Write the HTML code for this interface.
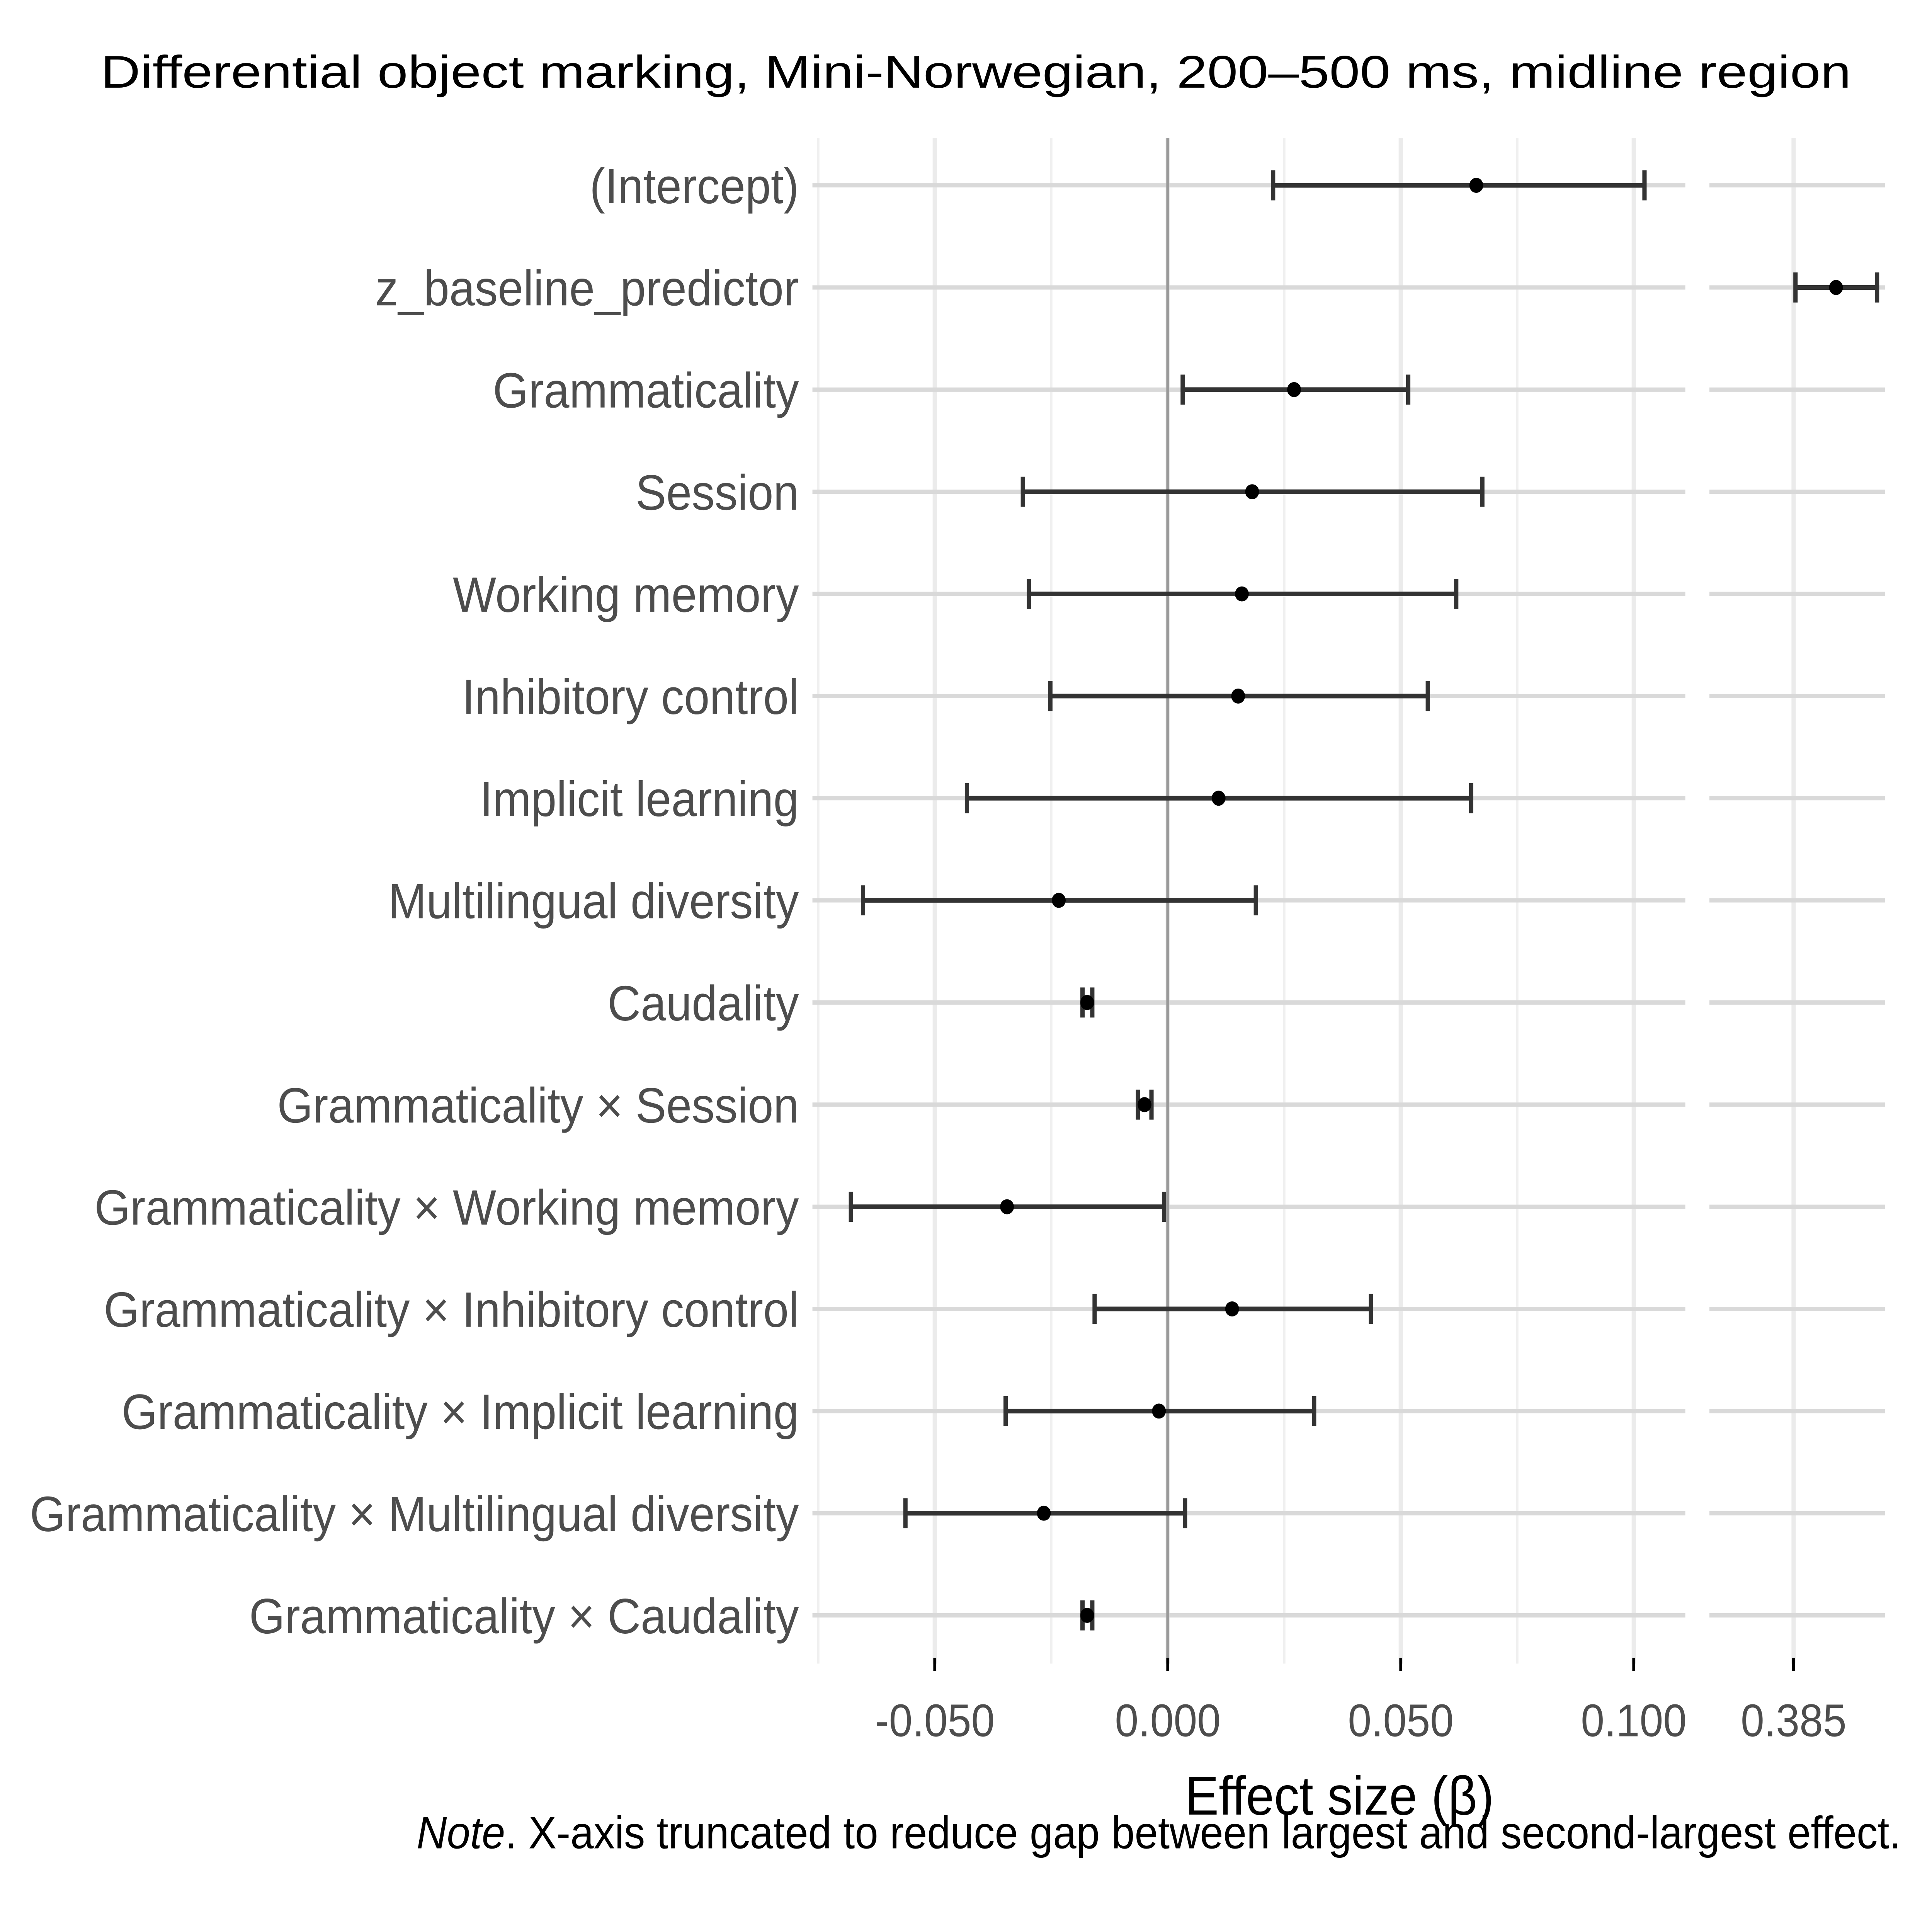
<!DOCTYPE html>
<html><head><meta charset="utf-8">
<style>
html,body{margin:0;padding:0;background:#fff;width:100%;height:100%;overflow:hidden}
svg{display:block;width:100vw;height:100vh}
text{font-family:"Liberation Sans",Arial,sans-serif}
</style></head><body>
<svg id="chart" viewBox="0 0 5850 5400" preserveAspectRatio="none" xmlns="http://www.w3.org/2000/svg">
<rect width="5850" height="5400" fill="#fff"/>
<text x="2955" y="245" font-size="128" text-anchor="middle" fill="#000" textLength="5300" lengthAdjust="spacingAndGlyphs">Differential object marking, Mini-Norwegian, 200–500 ms, midline region</text>
<g id="grid"></g>
<g id="marks"></g>
<g id="axes"></g>
<text x="4056" y="5072" font-size="153" text-anchor="middle" fill="#000">Effect size (β)</text>
<text x="5756" y="5166" font-size="127" text-anchor="end" fill="#000"><tspan font-style="italic">Note</tspan>. X-axis truncated to reduce gap between largest and second-largest effect.</text>
</svg>
<script>
const terms = ["(Intercept)","z_baseline_predictor","Grammaticality","Session","Working memory","Inhibitory control","Implicit learning","Multilingual diversity","Caudality","Grammaticality × Session","Grammaticality × Working memory","Grammaticality × Inhibitory control","Grammaticality × Implicit learning","Grammaticality × Multilingual diversity","Grammaticality × Caudality"];
const estimates = [0.0662,0.3941,0.0271,0.0181,0.0159,0.0151,0.0109,-0.0234,-0.0173,-0.0050,-0.0345,0.0138,-0.0019,-0.0266,-0.0173];
const lowerCI = [0.0226,0.3854,0.0032,-0.0311,-0.0298,-0.0252,-0.0431,-0.0654,-0.0183,-0.0064,-0.0680,-0.0157,-0.0348,-0.0563,-0.0183];
const upperCI = [0.1023,0.4029,0.0516,0.0675,0.0619,0.0558,0.0651,0.0189,-0.0162,-0.0035,-0.0008,0.0436,0.0314,0.0037,-0.0162];
const mainTicks = [-0.05,0,0.05,0.1];
const mainTickLabels = ["-0.050","0.000","0.050","0.100"];
const mainMinor = [-0.075,-0.025,0.025,0.075];
const bigTicks = [0.385];
const bigTickLabels = ["0.385"];

const NS="http://www.w3.org/2000/svg";
const PX_PER_UNIT=14110;
const p1={left:2460,right:5103,zero:3536};
const p2={left:5176,right:5708,ref:0.385,refX:5431};
const panelTop=386,panelBottom=4650,row0=518,rowStep=285.5;
function x1(v){return p1.zero+v*PX_PER_UNIT;}
function x2(v){return p2.refX+(v-p2.ref)*PX_PER_UNIT;}
function yRow(i){return row0+i*rowStep;}
function mk(tag,attrs,parent){const e=document.createElementNS(NS,tag);for(const k in attrs)e.setAttribute(k,attrs[k]);parent.appendChild(e);return e;}
const gridG=document.getElementById('grid'),marksG=document.getElementById('marks'),axesG=document.getElementById('axes');

mainMinor.forEach(v=>{
  const l=mk('line',{x1:x1(v),x2:x1(v),y1:panelTop,y2:panelBottom,stroke:'#f0f0f0','stroke-width':7},gridG);
  
  
});
mainTicks.forEach(v=>{
  const l=mk('line',{x1:x1(v),x2:x1(v),y1:panelTop,y2:panelBottom,stroke:'#ebebeb','stroke-width':13},gridG);
  
  
});
bigTicks.forEach(v=>{
  const l=mk('line',{x1:x2(v),x2:x2(v),y1:panelTop,y2:panelBottom,stroke:'#ebebeb','stroke-width':13},gridG);
  
  
});
terms.forEach((t,i)=>{
  const y=yRow(i);
  const a=mk('line',{x1:p1.left,x2:p1.right,y1:y,y2:y,stroke:'#d9d9d9','stroke-width':12},gridG);
  
  
  const b=mk('line',{x1:p2.left,x2:p2.right,y1:y,y2:y,stroke:'#d9d9d9','stroke-width':12},gridG);
  
  
});
const z=mk('line',{x1:x1(0),x2:x1(0),y1:panelTop,y2:panelBottom,stroke:'#999999','stroke-width':9},gridG);



terms.forEach((t,i)=>{
  const y=yRow(i);
  const big=estimates[i]>0.2;
  const fx=big?x2:x1;
  const g=mk('g',{},marksG);
  
  
  const lo=fx(lowerCI[i]),hi=fx(upperCI[i]);
  mk('line',{x1:lo,x2:hi,y1:y,y2:y,stroke:'#333','stroke-width':13},g);
  mk('line',{x1:lo,x2:lo,y1:y-42,y2:y+42,stroke:'#333','stroke-width':13},g);
  mk('line',{x1:hi,x2:hi,y1:y-42,y2:y+42,stroke:'#333','stroke-width':13},g);
  const c=mk('circle',{cx:fx(estimates[i]),cy:y,r:21,fill:'#000'},g);
  
  
  const lab=mk('text',{x:2419,y:y+50,'font-size':139,'text-anchor':'end',fill:'#4d4d4d'},axesG);
  lab.textContent=t;
  
  
});
function tick(x,label){
  const l=mk('line',{x1:x,x2:x,y1:panelBottom-16,y2:panelBottom+20,stroke:'#000','stroke-width':9},axesG);
  
  
  const t=mk('text',{x:x,y:4853,'font-size':128,'text-anchor':'middle',fill:'#4d4d4d'},axesG);
  t.textContent=label;
  
  
}
mainTicks.forEach((v,i)=>tick(x1(v),mainTickLabels[i]));
bigTicks.forEach((v,i)=>tick(x2(v),bigTickLabels[i]));
</script>
</body></html>
